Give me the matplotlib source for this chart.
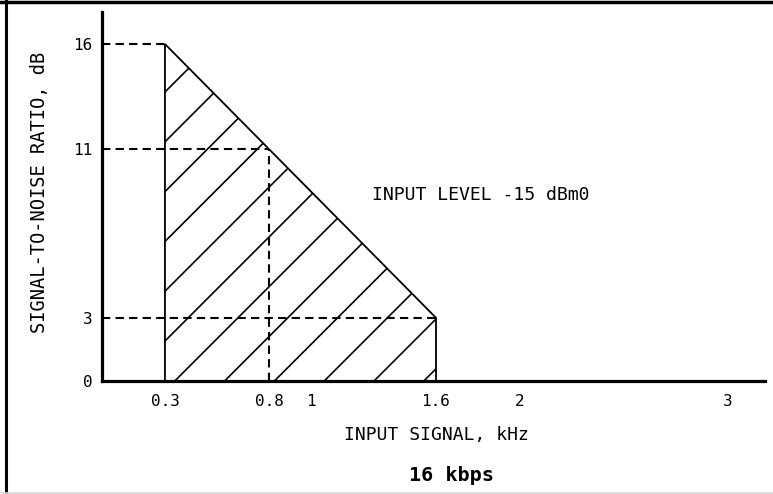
import matplotlib
matplotlib.use("Agg")
import matplotlib.pyplot as plt
import numpy as np
from matplotlib.lines import Line2D
from matplotlib.patches import Polygon
from matplotlib.transforms import IdentityTransform

# shaded operating region (kHz, dB)
region_x = [0.3, 0.3, 1.6, 1.6]
region_y = [0, 16, 3, 0]

# reference points marked with dashed guide lines
ref_x = [0.3, 0.8, 1.6]
ref_y = [16, 11, 3]

xtick_vals = [0.3, 0.8, 1, 1.6, 2, 3]
xtick_labels = ["0.3", "0.8", "1", "1.6", "2", "3"]
ytick_vals = [0, 3, 11, 16]
ytick_labels = ["0", "3", "11", "16"]

MONO = "DejaVu Sans Mono"
W, H, DPI = 773, 494, 100

fig = plt.figure(figsize=(W / DPI, H / DPI), dpi=DPI)
ax = fig.add_axes([102.4 / W, 113 / H, (765 - 102.4) / W, 369 / H])
ax.set_xlim(0, 3.178)
ax.set_ylim(0, 17.52)

for s in ("top", "right"):
    ax.spines[s].set_visible(False)
for s in ("left", "bottom"):
    ax.spines[s].set_linewidth(2.3)
    ax.spines[s].set_color("black")

ax.set_xticks(xtick_vals)
ax.set_xticklabels(xtick_labels, family=MONO, fontsize=11.5)
ax.set_yticks(ytick_vals)
ax.set_yticklabels(ytick_labels, family=MONO, fontsize=11.5)
ax.tick_params(axis="x", length=0, pad=9)
ax.tick_params(axis="y", length=0, pad=7)

# region outline
poly = Polygon(np.column_stack([region_x, region_y]), closed=False,
               facecolor="none", edgecolor="black", linewidth=1.3, zorder=3)
ax.add_patch(poly)
clip = Polygon(np.column_stack([region_x, region_y]), closed=True,
               facecolor="none", edgecolor="none")
ax.add_patch(clip)

# wide diagonal hatching, spaced in pixels and clipped to the region
for u in np.arange(257 - 49.8 * 10, 257 + 49.8 * 20, 49.8):
    xs = np.array([0, W])
    ln = Line2D(xs, xs + H - u, transform=IdentityTransform(),
                color="black", linewidth=1.2)
    ln.set_clip_path(clip)
    fig.add_artist(ln)

# dashed guide lines
dash = (0, (4, 2.5))
for xv, yv in zip(ref_x, ref_y):
    ax.plot([0, xv], [yv, yv], color="black", linewidth=1.5, linestyle=dash, zorder=2)
ax.plot([ref_x[1], ref_x[1]], [0, ref_y[1]], color="black", linewidth=1.5,
        linestyle=dash, zorder=2)

fig.text(372 / W, 1 - 195 / H, "INPUT LEVEL -15 dBm0", family=MONO, fontsize=13.1,
         ha="left", va="center")
fig.text(436 / W, 1 - 435 / H, "INPUT SIGNAL, kHz", family=MONO, fontsize=13,
         ha="center", va="center")
fig.text(451 / W, 1 - 475 / H, "16 kbps", family=MONO, fontsize=14.5,
         fontweight="bold", ha="center", va="center")
fig.text(40 / W, 1 - 192 / H, "SIGNAL-TO-NOISE RATIO, dB", family=MONO, fontsize=13.5,
         rotation=90, ha="center", va="center")

# scanned page frame
fig.add_artist(Line2D([6.5 / W, 6.5 / W], [0, 1], transform=fig.transFigure,
                      color="black", linewidth=2.2))
fig.add_artist(Line2D([0, 1], [1 - 2 / H, 1 - 2 / H], transform=fig.transFigure,
                      color="black", linewidth=2.5))
fig.add_artist(Line2D([0, 1], [0.8 / H, 0.8 / H], transform=fig.transFigure,
                      color="#d8d8d8", linewidth=1.2))

fig.savefig("out.png", dpi=DPI)
